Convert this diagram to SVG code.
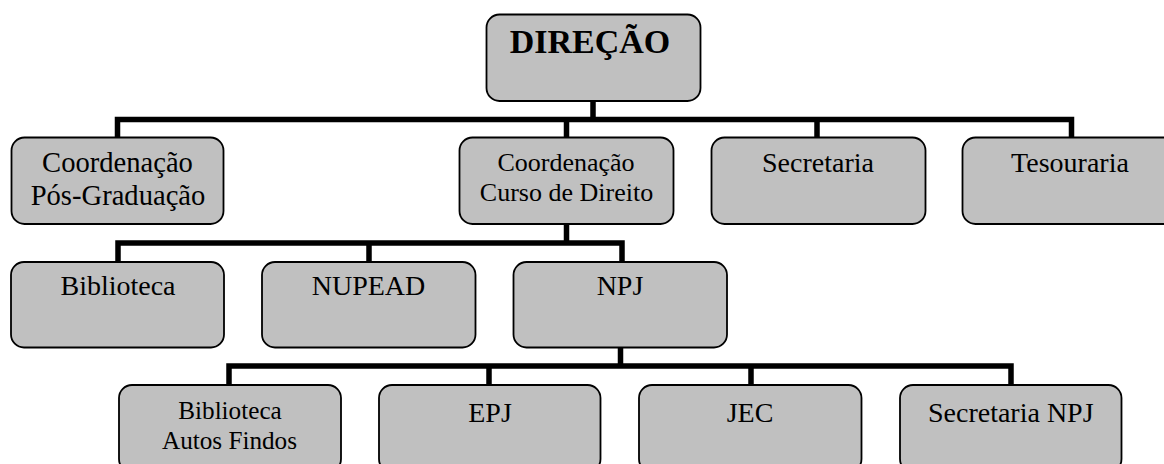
<svg xmlns="http://www.w3.org/2000/svg" width="1164" height="464" viewBox="0 0 1164 464">
<style>
.box{fill:#c0c0c0;stroke:#000;stroke-width:1.8}
.t{font-family:"Liberation Serif","Times New Roman",serif;font-size:28px;fill:#000;text-anchor:middle}
.m{font-size:28.6px}
.s{font-size:26px}
.xs{font-size:25.2px}
.b{font-weight:bold;font-size:34px}
.c{fill:none;stroke:#000;stroke-width:5.5;stroke-linecap:square;stroke-linejoin:miter}
</style>
<rect width="1164" height="464" fill="#fff"/>
<g id="connectors">
<path class="c" d="M593 101V119.5M117.5 137V119.5H1071.5V137M566.5 119.5V137M817 119.5V137"/>
<path class="c" d="M566.5 224V243M118 262V243H622V262M369 243V262"/>
<path class="c" d="M620.5 347V366M229 385V366H1011V385M489 366V385M751 366V385"/>
</g>
<g id="n-direcao"><rect class="box" x="486.5" y="14.5" width="214" height="86.5" rx="13"/><text class="t b" x="590" y="53.3">DIREÇÃO</text></g>
<g id="n-coord-pos"><rect class="box" x="11.5" y="137.5" width="212" height="86.5" rx="13"/><text class="t m" x="117.5" y="171.7">Coordenação</text><text class="t m" x="118" y="205">Pós-Graduação</text></g>
<g id="n-coord-curso"><rect class="box" x="459.5" y="137.5" width="214" height="86.5" rx="13"/><text class="t s" x="566" y="171">Coordenação</text><text class="t s" x="566.5" y="200.5">Curso de Direito</text></g>
<g id="n-secretaria"><rect class="box" x="711.5" y="137.5" width="214" height="86.5" rx="13"/><text class="t" x="818" y="172">Secretaria</text></g>
<g id="n-tesouraria"><rect class="box" x="962.5" y="137.5" width="215" height="86.5" rx="13"/><text class="t" x="1070" y="172">Tesouraria</text></g>
<g id="n-biblioteca"><rect class="box" x="11" y="262" width="213" height="85.5" rx="13"/><text class="t" x="118" y="295">Biblioteca</text></g>
<g id="n-nupead"><rect class="box" x="262" y="262" width="213.5" height="85.5" rx="13"/><text class="t" x="368.5" y="295">NUPEAD</text></g>
<g id="n-npj"><rect class="box" x="513.5" y="262" width="213.5" height="85.5" rx="13"/><text class="t" x="620" y="295">NPJ</text></g>
<g id="n-bib-autos"><rect class="box" x="119" y="385" width="222" height="87" rx="13"/><text class="t xs" x="230" y="418.5">Biblioteca</text><text class="t xs" x="229.5" y="449">Autos Findos</text></g>
<g id="n-epj"><rect class="box" x="379" y="385" width="221.5" height="87" rx="13"/><text class="t" x="490" y="421.5">EPJ</text></g>
<g id="n-jec"><rect class="box" x="639" y="385" width="222.5" height="87" rx="13"/><text class="t" x="750" y="421.5">JEC</text></g>
<g id="n-secretaria-npj"><rect class="box" x="900" y="385" width="221.5" height="87" rx="13"/><text class="t" x="1010.8" y="421.7">Secretaria NPJ</text></g>
</svg>
